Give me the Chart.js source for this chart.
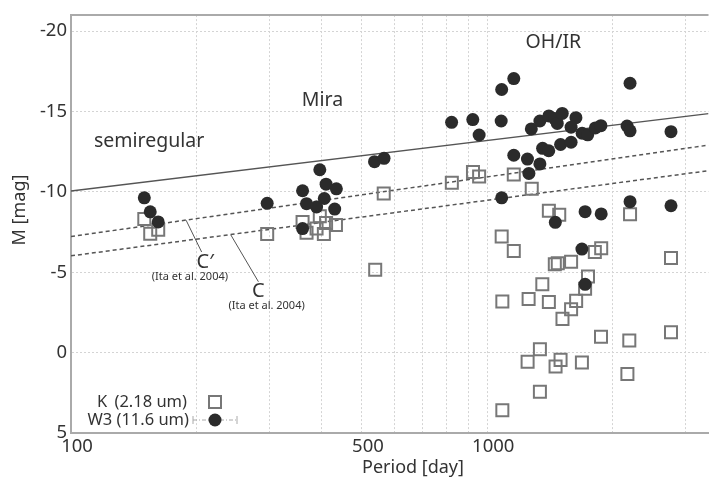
<!DOCTYPE html>
<html>
<head>
<meta charset="utf-8">
<script src="https://cdn.jsdelivr.net/npm/chart.js@4"></script>
<style>
  body { margin: 0; background: #fff; }
  canvas { display: block; }
</style>
</head>
<body>
<canvas id="chart" width="719" height="484"></canvas>
<script>
// K band (2.18 um), open squares
const kPeriod = [150, 155, 162, 296,
  360, 396, 410, 433, 368, 389, 405, 564, 538,
  822, 924, 956, 1158, 1279, 1406, 1489, 2203, 1083, 1158, 1813, 1878,
  1453, 1477, 1590, 1746, 1718, 1356, 2763, 1087, 1257, 1406, 1635, 1590, 1516,
  1876, 2194, 2763, 1338, 1250, 1500, 1459, 1688, 2171, 1338, 1087];
const kMag = [-8.31, -7.40, -7.64, -7.38,
  -8.13, -8.49, -8.07, -7.94, -7.46, -7.72, -7.38, -9.90, -5.15,
  -10.57, -11.24, -10.96, -11.08, -10.20, -8.83, -8.58, -8.61, -7.22, -6.32, -6.26, -6.49,
  -5.50, -5.56, -5.65, -4.73, -3.98, -4.25, -5.89, -3.18, -3.33, -3.15, -3.22, -2.70, -2.10,
  -0.99, -0.75, -1.27, -0.21, 0.57, 0.45, 0.86, 0.61, 1.33, 2.44, 3.58];

// W3 band (11.6 um), filled circles
const w3Period = [150, 155, 162, 296,
  396, 410, 434, 360, 368, 406, 389, 430, 360, 536, 565,
  821, 923, 956, 1080, 1083, 1158, 1276, 1338, 1406, 1452, 1473, 1514, 1633, 1590,
  1690, 1743, 1818, 1875, 2203, 2167, 2203, 2763,
  1158, 1249, 1338, 1259, 1358, 1405, 1500, 1590,
  1083, 2203, 2763, 1718, 1878, 1457, 1688, 1718];
const w3Mag = [-9.63, -8.76, -8.13, -9.29,
  -11.38, -10.48, -10.19, -10.07, -9.27, -9.59, -9.06, -8.93, -7.72, -11.88, -12.09,
  -14.33, -14.50, -13.54, -14.41, -16.37, -17.05, -13.92, -14.41, -14.73, -14.56, -14.26, -14.88, -14.62, -14.03,
  -13.65, -13.55, -13.98, -14.12, -16.76, -14.10, -13.80, -13.75,
  -12.28, -12.04, -11.74, -11.15, -12.71, -12.56, -12.95, -13.09,
  -9.63, -9.39, -9.14, -8.77, -8.63, -8.11, -6.44, -4.25];

// period-luminosity relations
const plPeriod = [100, 3400];
const plSolid = [-10.06, -14.87];
const plCprime = [-7.22, -12.91];
const plC = [-6.02, -11.32];

// leader lines from the C' and C labels
const cPrimeLeaderPeriod = [189, 206];
const cPrimeLeaderMag = [-8.24, -6.26];
const cLeaderPeriod = [242, 282];
const cLeaderMag = [-7.33, -4.41];

// axes
const xTicks = [100, 200, 300, 400, 500, 600, 700, 800, 900, 1000, 2000, 3000];
const xLabeled = [100, 500, 1000];
const yTicks = [-20, -15, -10, -5, 0, 5];

// text notes placed in data coordinates
const noteText = ['semiregular', 'Mira', 'OH/IR', 'C\u2032', '(Ita et al. 2004)', 'C', '(Ita et al. 2004)'];
const notePeriod = [154, 402, 1441, 210, 193, 282, 295];
const noteMag = [-13.13, -15.66, -19.28, -5.59, -4.69, -3.79, -2.90];
const noteSize = [19.5, 19.5, 19.5, 20, 11, 20, 11];

const FONT = '"Noto Sans", "Open Sans", sans-serif';
const TXT = '#333';

function pts(xs, ys) {
  return xs.map((x, i) => ({ x: x, y: ys[i] }));
}

function lineSet(xs, ys, dash, width) {
  return {
    type: 'line',
    data: pts(xs, ys),
    borderColor: '#555',
    borderWidth: width,
    borderDash: dash,
    pointRadius: 0,
    fill: false,
    order: 3
  };
}

const extras = {
  id: 'extras',
  afterDatasetsDraw(chart) {
    const ctx = chart.ctx;
    const xs = chart.scales.x;
    const ys = chart.scales.y;
    const area = chart.chartArea;

    ctx.save();
    // top frame line
    ctx.strokeStyle = '#aaa';
    ctx.lineWidth = 2;
    ctx.beginPath();
    ctx.moveTo(area.left, area.top);
    ctx.lineTo(area.right, area.top);
    ctx.stroke();

    // notes
    ctx.fillStyle = TXT;
    ctx.textAlign = 'center';
    ctx.textBaseline = 'middle';
    noteText.forEach((t, i) => {
      ctx.font = noteSize[i] + 'px ' + FONT;
      ctx.fillText(t, xs.getPixelForValue(notePeriod[i]), ys.getPixelForValue(noteMag[i]));
    });

    // axis titles
    ctx.font = '18px ' + FONT;
    ctx.fillText('Period [day]', 413, 468);
    ctx.save();
    ctx.translate(20, 210);
    ctx.rotate(-Math.PI / 2);
    ctx.fillText('M [mag]', 0, 0);
    ctx.restore();

    // legend
    ctx.font = '16.5px ' + FONT;
    ctx.textAlign = 'left';
    ctx.fillText('K', 97, 402);
    ctx.textAlign = 'right';
    ctx.fillText('(2.18 um)', 187, 402);
    ctx.fillText('W3 (11.6 um)', 189, 420);
    ctx.strokeStyle = '#777';
    ctx.lineWidth = 2;
    ctx.strokeRect(209, 396, 12, 12);
    ctx.strokeStyle = '#aaa';
    ctx.lineWidth = 1;
    ctx.setLineDash([4, 2, 1, 2]);
    ctx.beginPath();
    ctx.moveTo(193, 420);
    ctx.lineTo(237, 420);
    ctx.stroke();
    ctx.setLineDash([]);
    ctx.beginPath();
    ctx.moveTo(193, 416); ctx.lineTo(193, 424);
    ctx.moveTo(237, 416); ctx.lineTo(237, 424);
    ctx.stroke();
    ctx.fillStyle = '#2b2b2b';
    ctx.beginPath();
    ctx.arc(215, 420, 6.5, 0, Math.PI * 2);
    ctx.fill();
    ctx.restore();
  }
};

new Chart(document.getElementById('chart'), {
  type: 'scatter',
  data: {
    datasets: [
      {
        label: 'W3 (11.6 um)',
        data: pts(w3Period, w3Mag),
        pointStyle: 'circle',
        pointRadius: 6.5,
        backgroundColor: '#2b2b2b',
        borderWidth: 0,
        order: 0
      },
      {
        label: 'K (2.18 um)',
        data: pts(kPeriod, kMag),
        pointStyle: 'rect',
        pointRadius: 8.5,
        backgroundColor: 'rgba(0,0,0,0)',
        borderColor: '#777',
        borderWidth: 2,
        order: 1
      },
      lineSet(plPeriod, plSolid, [], 1.5),
      lineSet(plPeriod, plCprime, [4, 3], 1.5),
      lineSet(plPeriod, plC, [4, 3], 1.5),
      lineSet(cPrimeLeaderPeriod, cPrimeLeaderMag, [], 1),
      lineSet(cLeaderPeriod, cLeaderMag, [], 1)
    ]
  },
  options: {
    responsive: false,
    animation: false,
    devicePixelRatio: 1,
    layout: { padding: { top: 1, right: 0, left: 0, bottom: 0 } },
    plugins: {
      legend: { display: false },
      tooltip: { enabled: false }
    },
    scales: {
      x: {
        type: 'logarithmic',
        min: 100,
        max: 3400,
        afterBuildTicks: s => { s.ticks = xTicks.map(v => ({ value: v })); },
        afterFit: s => { s.height = 51; },
        grid: { color: '#d4d4d4', lineWidth: 1, drawTicks: false },
        border: { color: '#aaa', width: 2, dash: [2, 2] },
        ticks: {
          autoSkip: false,
          maxRotation: 0,
          padding: 3,
          labelOffset: 6,
          color: TXT,
          font: { family: FONT, size: 18.5 },
          callback: v => xLabeled.includes(v) ? String(v) : ''
        }
      },
      y: {
        min: -21,
        max: 5,
        reverse: true,
        afterBuildTicks: s => { s.ticks = yTicks.map(v => ({ value: v })); },
        afterFit: s => { s.width = 71; },
        grid: { color: '#d4d4d4', lineWidth: 1, drawTicks: false },
        border: { color: '#aaa', width: 2, dash: [2, 2] },
        ticks: {
          padding: 4,
          color: TXT,
          font: { family: FONT, size: 18.5 },
          callback: v => String(v)
        }
      }
    }
  },
  plugins: [extras]
});
</script>
</body>
</html>
